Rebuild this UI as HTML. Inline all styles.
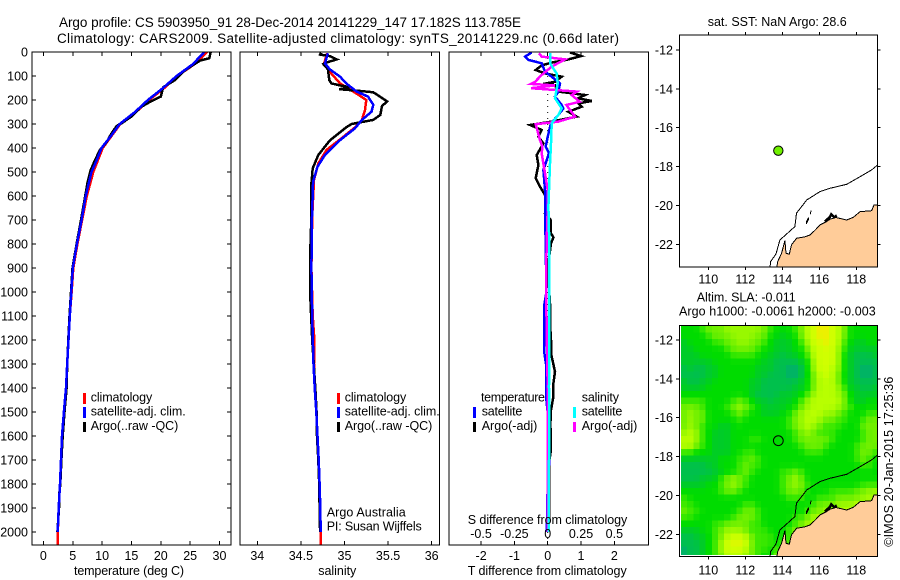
<!DOCTYPE html>
<html lang="en">
<head>
<meta charset="utf-8">
<title>Argo profile chart</title>
<style>
html,body{margin:0;padding:0;background:#fff;width:900px;height:580px;overflow:hidden}
svg{display:block}
text{font-family:"Liberation Sans",Arial,sans-serif;font-size:12.5px;fill:#000}
.t{font-size:13.5px}
</style>
</head>
<body>
<svg id="chart" width="900" height="580" viewBox="0 0 900 580" xmlns="http://www.w3.org/2000/svg">
<defs>
<clipPath id="clip-temp"><rect x="32" y="52" width="199" height="493"/></clipPath>
<clipPath id="clip-sal"><rect x="240" y="52" width="199.5" height="493"/></clipPath>
<clipPath id="clip-diff"><rect x="449" y="52" width="199.5" height="493"/></clipPath>
<clipPath id="clip-map1"><rect x="679.3" y="35" width="198" height="232"/></clipPath>
<clipPath id="clip-map2"><rect x="679.3" y="325.7" width="198" height="231"/></clipPath>
</defs>
<g id="layer-heat" clip-path="url(#clip-map2)"></g>
<g id="layer-marks"></g>
<g id="layer-axes"></g>

<text class="t" x="59" y="27" textLength="462" lengthAdjust="spacing">Argo profile: CS 5903950_91 28-Dec-2014 20141229_147 17.182S 113.785E</text>
<text class="t" x="57" y="43" textLength="562" lengthAdjust="spacing">Climatology: CARS2009. Satellite-adjusted climatology: synTS_20141229.nc (0.66d later)</text>

<text x="74" y="575" textLength="110" lengthAdjust="spacing">temperature (deg C)</text>
<text x="318.3" y="575" textLength="38" lengthAdjust="spacing">salinity</text>
<text x="467.7" y="524" textLength="159.6" lengthAdjust="spacing">S difference from climatology</text>
<text x="467.7" y="575" textLength="159" lengthAdjust="spacing">T difference from climatology</text>

<g>
<rect x="83" y="393" width="3" height="11" fill="#f00"/>
<rect x="83" y="407" width="3" height="11" fill="#00f"/>
<rect x="83" y="422" width="3" height="10" fill="#000"/>
<text x="90.7" y="401.7" textLength="61.5" lengthAdjust="spacing">climatology</text>
<text x="90.7" y="415.7" textLength="95" lengthAdjust="spacing">satellite-adj. clim.</text>
<text x="90.7" y="430" textLength="87.6" lengthAdjust="spacing">Argo(..raw -QC)</text>
</g>

<g>
<rect x="337" y="393" width="3" height="11" fill="#f00"/>
<rect x="337" y="407" width="3" height="11" fill="#00f"/>
<rect x="337" y="422" width="3" height="10" fill="#000"/>
<text x="344.7" y="401.7" textLength="61.5" lengthAdjust="spacing">climatology</text>
<text x="344.7" y="415.7" textLength="95" lengthAdjust="spacing">satellite-adj. clim.</text>
<text x="344.7" y="430" textLength="87.6" lengthAdjust="spacing">Argo(..raw -QC)</text>
<text x="326.7" y="516.7" textLength="79" lengthAdjust="spacing">Argo Australia</text>
<text x="326.7" y="530.7" textLength="95" lengthAdjust="spacing">PI: Susan Wijffels</text>
</g>

<g>
<rect x="473" y="407" width="3" height="11" fill="#00f"/>
<rect x="473" y="422" width="3" height="10" fill="#000"/>
<rect x="573" y="407" width="3" height="11" fill="#0ff"/>
<rect x="573" y="422" width="3" height="10" fill="#f0f"/>
<text x="481" y="401.7" textLength="64" lengthAdjust="spacing">temperature</text>
<text x="581.7" y="401.7" textLength="37.3" lengthAdjust="spacing">salinity</text>
<text x="481.7" y="415.7" textLength="40.6" lengthAdjust="spacing">satellite</text>
<text x="581.7" y="415.7" textLength="40.6" lengthAdjust="spacing">satellite</text>
<text x="481.7" y="430" textLength="55.6" lengthAdjust="spacing">Argo(-adj)</text>
<text x="581.7" y="430" textLength="55.6" lengthAdjust="spacing">Argo(-adj)</text>
</g>

<text x="707.7" y="26" textLength="139" lengthAdjust="spacing">sat. SST: NaN Argo: 28.6</text>
<text x="696.7" y="301.7" textLength="99" lengthAdjust="spacing">Altim. SLA: -0.011</text>
<text x="679" y="315.7" textLength="196.7" lengthAdjust="spacing">Argo h1000: -0.0061 h2000: -0.003</text>
<text transform="translate(893 546.7) rotate(-90)" x="0" y="0" textLength="170" lengthAdjust="spacing">©IMOS 20-Jan-2015 17:25:36</text>
</svg>

<script>
// ---------- profile data ----------
const tempClimDepth = [0,50,100,150,200,250,300,350,400,450,500,600,700,800,900,1000,1100,1200,1300,1400,1500,1600,1700,1800,1900,2000,2054];
const tempClim = [27.9,25.8,22.8,20.6,18.0,15.8,13.1,11.6,10.1,9.3,8.5,7.4,6.6,5.8,5.1,4.8,4.5,4.28,4.05,3.85,3.5,3.17,3.0,2.83,2.6,2.45,2.43];
const tempSatDepth = [0,50,100,150,200,250,300,350,400,450,500,600,700,800,900,1000,1100,1200,1300,1400,1500,1600,1700,1800,1900,2000];
const tempSat = [27.4,25.5,22.7,20.4,17.8,15.6,13.0,11.5,9.9,9.1,8.2,7.2,6.5,5.7,5.0,4.75,4.5,4.28,4.05,3.85,3.5,3.17,3.0,2.83,2.6,2.43];
const tempArgoDepth = [0,26,36,54,82,117,147,186,207,231,269,297,308,339,374,408,450,492,547,603,700,800,900,1000,1100,1200,1300,1400,1500,1600,1700,1800,1850,1900,2000];
const tempArgo = [28.5,28.27,26.7,25.5,23.8,22.4,20.4,20.0,18.2,16.5,15.0,13.3,12.5,11.6,10.8,9.65,8.8,8.05,7.5,7.1,6.4,5.65,4.95,4.7,4.45,4.25,4.05,3.95,3.6,3.28,3.06,2.88,2.65,2.65,2.38];

const salClimDepth = [5,50,82,131,169,200,242,283,314,364,408,464,533,686,900,1100,1200,1300,1400,1500,1600,1700,1800,1900,2000,2054];
const salClim = [34.8,34.765,34.83,34.95,35.12,35.25,35.235,35.2,35.12,34.95,34.795,34.70,34.65,34.63,34.62,34.635,34.655,34.65,34.658,34.677,34.69,34.704,34.715,34.723,34.727,34.727];
const salSatDepth = [5,47,72,103,131,165,186,220,249,283,318,367,429,478,540,686,900,1100,1300,1400,1500,1600,1700,1800,1900,2000];
const salSat = [34.81,34.776,34.83,34.95,35.02,35.14,35.27,35.33,35.31,35.2,35.12,34.95,34.776,34.69,34.64,34.627,34.62,34.63,34.645,34.658,34.677,34.69,34.704,34.715,34.723,34.727];
const salArgoDepth = [3,11,17,31,42,50,72,117,131,139,147,155,161,168,206,225,262,283,300,314,369,429,485,547,686,800,1000,1200,1400,1500,1600,1700,1800,1900,2000];
const salArgo = [34.73,34.72,34.83,34.91,34.81,34.757,34.81,34.826,34.85,34.95,35.06,34.94,35.14,35.33,35.49,35.43,35.41,35.33,35.08,35.02,34.83,34.70,34.635,34.62,34.62,34.61,34.605,34.63,34.665,34.68,34.685,34.70,34.71,34.715,34.72];

const diffTDepth = [2,17,31,44,56,75,89,103,124,133,138,165,179,193,204,214,228,249,269,290,304,325,353,381,429,471,526,561,596,658,672,700,756,772,797,900,1047,1131,1200,1256,1332,1381,1436,1492,1547,1658,1700,1894,2000];
const diffTArgo = [0.67,1.0,0.62,0.12,-0.18,-0.36,-0.08,0.42,0.22,-0.13,0.22,0.32,1.12,0.92,1.32,0.92,1.02,0.62,0.87,0.12,-0.53,-0.18,-0.28,-0.13,-0.33,-0.28,-0.36,-0.23,-0.08,-0.06,-0.08,0.09,0.1,0.17,0.1,0.0,0.07,0.07,0.1,0.1,0.22,0.17,0.17,0.1,0.08,0.1,0.05,0.05,0.03];
const diffTSatDepth = [2,19,33,47,82,103,131,165,186,221,235,262,297,353,394,422,492,575,658,800,1000,1050,1256,1300,1436,1500,1700,1800,1950,2000];
const diffTSat = [-0.48,-0.68,-0.58,-0.18,-0.08,0.12,0.37,0.32,0.22,0.42,0.47,0.32,0.1,0,-0.06,0.04,-0.13,-0.08,-0.08,-0.06,-0.04,-0.1,-0.1,-0.05,-0.05,0,0.05,0,-0.02,-0.04];
const diffSSatDepth = [5,47,89,131,193,235,262,297,381,464,644,800,1000,1400,1700,2000];
const diffSSat = [0.017,0.017,0.067,0.075,0.055,0.105,0.08,0.03,0.025,0.017,0.005,0.012,0.012,0.01,0.01,0.008];
const diffSArgoDepth = [5,19,31,61,96,124,133,139,151,165,179,207,221,269,290,301,367,394,422,505,575,658,800,1000,1400,2000];
const diffSArgo = [-0.065,-0.045,0.13,0.03,-0.045,-0.095,-0.125,0.055,-0.125,0.22,0.18,0.24,0.14,0.205,0.08,-0.09,-0.058,-0.04,-0.045,-0.02,0,0,-0.008,-0.012,0,0];

// ---------- axis labels ----------
const depthTicks = [0,100,200,300,400,500,600,700,800,900,1000,1100,1200,1300,1400,1500,1600,1700,1800,1900,2000];
const tempTicks = [0,5,10,15,20,25,30];
const salTicks = [34,34.5,35,35.5,36];
const salTickLabels = ['34','34.5','35','35.5','36'];
const diffTTicks = [-2,-1,0,1,2];
const diffSTicks = [-0.5,-0.25,0,0.25,0.5];
const diffSTickLabels = ['-0.5','-0.25','0','0.25','0.5'];
const lonTicks = [110,112,114,116,118];
const latTicks = [-12,-14,-16,-18,-20,-22];

// ---------- map data ----------
const argoLon = 113.785;
const argoLat = -17.182;
const landLon = [113.69,113.75,113.96,114.14,114.2,114.38,114.5,114.77,115.2,115.5,115.8,116.04,116.35,116.58,116.9,117.3,117.48,117.84,118.2,118.83,118.95,119.2,119.2];
const landLat = [-23.25,-22.89,-22.46,-21.81,-22.46,-22.51,-22.03,-21.69,-21.62,-21.52,-21.25,-21.0,-20.85,-20.71,-20.62,-20.71,-20.75,-20.61,-20.32,-20.27,-19.98,-19.98,-23.25];
const isobathLon = [113.33,113.37,113.66,113.87,114.68,114.77,115.32,116.04,116.58,117.48,118.2,118.83,119.2];
const isobathLat = [-23.25,-22.89,-22.5,-21.78,-21.09,-20.4,-19.72,-19.29,-19.12,-18.91,-18.52,-18.17,-17.88];
const shoalLon = [116.3,116.55,116.65,116.8,116.95];
const shoalLat = [-20.82,-20.62,-20.45,-20.6,-20.52];
const islandLon = [115.3,115.42,115.42,115.3];
const islandLat = [-20.85,-20.62,-20.72,-20.95];
const reefLon = [115.52,115.55];
const reefLat = [-20.45,-20.25];

// SLA levels, one row per 1/3 degree of latitude, north to south
const slaRows = [
[3,3,3,4,5,5,5,6,6,6,6,6,6,5,4,3,3,3,4,5,7,8,9,9,8,7,5,3,3,3,3,3],
[3,3,3,3,4,5,5,5,6,6,6,6,5,5,3,3,2,3,3,5,7,8,9,9,8,7,5,3,3,3,3,3],
[2,3,3,3,3,4,4,5,5,6,6,5,5,4,3,2,2,2,3,4,6,8,8,9,8,7,4,3,2,2,3,3],
[2,2,3,3,3,3,3,4,5,5,5,5,4,3,3,2,2,2,3,3,5,7,8,8,8,6,4,2,2,2,2,2],
[2,2,2,3,3,3,3,3,4,4,4,4,3,3,2,2,1,2,2,3,4,7,8,8,8,6,3,2,1,1,1,2],
[2,2,2,2,2,3,3,3,3,3,3,3,3,2,2,1,1,1,1,2,3,6,8,8,8,6,3,2,1,1,1,1],
[1,2,1,1,2,2,3,3,3,3,3,3,2,2,2,1,1,0,0,1,3,6,8,8,7,6,3,2,1,0,0,1],
[1,1,1,1,2,2,3,3,3,3,3,3,2,2,1,1,1,0,0,1,3,5,7,8,7,5,3,2,1,0,0,1],
[2,1,1,2,2,3,3,3,3,3,3,2,2,1,1,1,1,1,1,2,3,5,7,7,7,5,3,2,1,1,1,1],
[2,2,2,2,3,3,3,3,3,3,3,2,2,1,1,1,1,1,2,2,3,5,7,7,7,6,4,2,2,1,1,2],
[3,3,3,3,3,3,3,3,3,3,3,2,1,1,1,1,2,2,2,3,4,6,7,7,7,6,5,3,2,2,2,2],
[4,4,4,4,3,3,3,3,4,5,4,3,2,2,1,2,2,2,3,4,6,7,7,7,7,7,5,3,2,2,3,3],
[5,5,5,4,3,3,3,4,5,6,5,4,3,2,2,2,2,3,3,5,6,7,7,7,7,6,5,4,3,3,3,3],
[5,6,5,5,3,3,3,3,4,5,4,3,3,2,2,2,3,3,5,6,7,7,7,6,6,5,4,3,3,3,4,4],
[5,6,5,5,3,3,3,3,3,4,3,3,3,3,3,3,3,4,5,6,7,7,6,5,5,4,4,3,3,4,5,5],
[5,6,5,4,3,3,2,2,3,3,3,3,3,3,3,3,3,4,5,6,7,6,5,4,4,4,3,3,3,5,5,5],
[6,7,6,4,3,2,2,2,3,3,3,3,3,3,3,3,3,3,4,5,6,5,4,4,4,3,3,3,3,4,5,5],
[7,7,6,4,3,2,2,2,3,3,3,4,4,3,3,3,3,3,4,5,5,5,5,5,4,3,3,3,3,4,5,5],
[7,7,5,4,3,2,2,2,3,3,3,3,3,3,3,3,3,3,3,4,5,5,5,4,3,3,3,3,4,5,5,5],
[4,4,3,3,3,2,2,2,3,3,4,4,3,3,3,3,3,3,3,3,4,4,4,3,3,3,3,3,4,5,5,4],
[2,2,2,2,2,2,3,3,3,4,4,5,4,3,3,3,3,3,3,3,3,3,3,3,3,3,3,3,4,5,4,3],
[1,1,1,1,2,2,3,3,3,4,5,4,4,3,3,3,3,3,3,3,3,3,3,3,3,3,3,3,3,4,4,3],
[1,1,1,1,1,2,2,3,3,4,5,4,3,3,3,3,4,4,5,4,3,3,3,3,3,3,3,3,3,3,3,3],
[1,1,1,2,2,2,4,5,6,5,4,3,3,3,3,3,4,5,6,5,3,3,3,3,3,3,3,3,3,3,3,3],
[2,2,2,2,3,3,4,5,6,5,4,3,3,3,3,3,4,5,6,5,4,3,3,3,3,3,3,3,3,4,4,4],
[3,3,3,3,3,3,4,5,5,4,3,3,3,3,3,3,4,5,5,5,3,3,3,3,4,4,4,4,5,5,6,6],
[4,3,3,3,3,3,3,3,3,3,3,3,3,3,3,3,3,4,4,4,3,3,4,4,4,5,5,5,5,6,6,7],
[4,4,3,3,3,3,3,3,3,3,4,4,3,3,3,3,3,3,3,3,3,4,5,5,5,6,6,6,7,7,7,7],
[5,4,4,3,3,3,3,3,3,4,5,5,4,3,3,3,3,3,3,3,4,5,5,6,6,7,7,7,7,8,8,8],
[4,4,3,3,3,3,3,3,4,5,5,5,4,3,3,3,3,3,4,4,5,6,7,7,7,8,8,8,8,8,8,8],
[3,3,3,3,3,4,4,5,5,5,5,4,4,3,3,3,3,3,4,5,6,7,7,8,8,8,8,8,8,8,8,8],
[2,2,2,3,3,4,5,6,6,6,5,4,4,4,3,3,3,4,5,6,7,7,7,8,8,8,8,8,8,8,8,8],
[1,1,2,2,3,4,5,7,8,8,7,5,4,4,4,3,3,4,5,6,7,7,7,8,8,8,8,8,8,8,8,8],
[1,1,1,2,3,4,6,8,8.5,8.5,8,5,4,4,4,3,4,4,5,6,7,7,7,8,8,8,8,8,8,8,8,8],
[0,1,1,2,3,4,6,8,8,8,7,5,4,4,3,4,5,6,7,7,7,7,7,7,7,7,7,7,7,7,7,7],
[0,1,1,2,3,4,5,7,7,7,6,5,4,3,3,5,6,7,7,7,7,7,7,7,7,7,7,7,7,7,7,7]
];

// ---------- scales ----------
const NS = 'http://www.w3.org/2000/svg';
const yDepth = d => 52 + 0.24 * d;
const xTemp = v => 43.4 + 5.87 * v;
const xSal = v => 257.3 + 87.2 * (v - 34);
const xDiffT = v => 547.7 + 33.3 * v;
const xDiffS = v => 547.7 + 133.3 * v;
const xLon = v => 708.3 + 18.5 * (v - 110);
const yLat1 = v => 50 + 19.43 * (-12 - v);
const yLat2 = v => 340 + 19.43 * (-12 - v);
const palette = ['#00b06c','#00c04c','#00cc28','#00dc00','#38e800','#70f000','#98f800','#b8ff00','#d0ff00','#f0ee00'];

const heat = document.getElementById('layer-heat');
const marks = document.getElementById('layer-marks');
const axes = document.getElementById('layer-axes');

function hexRgb(h){return [1,3,5].map(i=>parseInt(h.substr(i,2),16));}
function levelColor(v){
  const lo = Math.max(0, Math.min(9, Math.floor(v)));
  const hi = Math.min(9, lo + 1);
  const f = Math.max(0, Math.min(1, v - lo));
  const a = hexRgb(palette[lo]), b = hexRgb(palette[hi]);
  return 'rgb(' + a.map((c,i)=>Math.round(c + (b[i]-c)*f)).join(',') + ')';
}
function softened(r, c){
  const v = slaRows[r][c];
  const up = r > 0 ? slaRows[r-1][c] : v;
  const down = r < slaRows.length - 1 ? slaRows[r+1][c] : v;
  const left = c > 0 ? slaRows[r][c-1] : v;
  const right = c < slaRows[r].length - 1 ? slaRows[r][c+1] : v;
  return (4 * v + up + down + left + right) / 8;
}
function drawProfile(name, depths, values, xFn, color, width, clip){
  const el = document.createElementNS(NS, 'polyline');
  
  
  el.setAttribute('points', depths.map((d,i)=>xFn(values[i]).toFixed(1)+','+yDepth(d).toFixed(1)).join(' '));
  el.setAttribute('fill', 'none');
  el.setAttribute('stroke', color);
  el.setAttribute('stroke-width', width);
  el.setAttribute('shape-rendering', 'crispEdges');
  el.setAttribute('clip-path', 'url(#' + clip + ')');
  marks.appendChild(el);
}
function drawGeo(name, lons, lats, yFn, fill, stroke, width, clip){
  const el = document.createElementNS(NS, fill === 'none' ? 'polyline' : 'polygon');
  
  
  el.setAttribute('points', lons.map((v,i)=>xLon(v).toFixed(1)+','+yFn(lats[i]).toFixed(1)).join(' '));
  el.setAttribute('fill', fill);
  el.setAttribute('stroke', stroke);
  el.setAttribute('stroke-width', width);
  el.setAttribute('shape-rendering', 'crispEdges');
  el.setAttribute('clip-path', 'url(#' + clip + ')');
  marks.appendChild(el);
}
function tick(name, x1, y1, x2, y2){
  const el = document.createElementNS(NS, 'line');
  
  
  el.setAttribute('x1', x1);
  el.setAttribute('y1', y1);
  el.setAttribute('x2', x2);
  el.setAttribute('y2', y2);
  el.setAttribute('stroke', '#000');
  el.setAttribute('stroke-width', 1);
  el.setAttribute('shape-rendering', 'crispEdges');
  axes.appendChild(el);
}
function label(name, str, x, y, anchor){
  const el = document.createElementNS(NS, 'text');
  
  
  el.setAttribute('x', x);
  el.setAttribute('y', y);
  el.setAttribute('text-anchor', anchor);
  el.textContent = str;
  axes.appendChild(el);
}
function box(name, x, y, w, h){
  const el = document.createElementNS(NS, 'rect');
  
  
  el.setAttribute('x', x);
  el.setAttribute('y', y);
  el.setAttribute('width', w);
  el.setAttribute('height', h);
  el.setAttribute('fill', 'none');
  el.setAttribute('stroke', '#000');
  el.setAttribute('stroke-width', 1);
  el.setAttribute('shape-rendering', 'crispEdges');
  axes.appendChild(el);
}

// ---------- heatmap ----------
slaRows.forEach((row, r) => {
  row.forEach((v, c) => {
    const cell = document.createElementNS(NS, 'rect');
    
    
    cell.setAttribute('x', (681 + c * 6.17).toFixed(2));
    cell.setAttribute('y', (326 + r * 6.48).toFixed(2));
    cell.setAttribute('width', 6.6);
    cell.setAttribute('height', Math.min(6.9, 555 - (326 + r * 6.48)).toFixed(2));
    cell.setAttribute('fill', levelColor(softened(r, c)));
    cell.setAttribute('shape-rendering', 'crispEdges');
    heat.appendChild(cell);
  });
});

// ---------- profiles ----------
drawProfile('temperature-climatology-line', tempClimDepth, tempClim, xTemp, '#f00', 2.5, 'clip-temp');
drawProfile('temperature-argo-line', tempArgoDepth, tempArgo, xTemp, '#000', 2.5, 'clip-temp');
drawProfile('temperature-satellite-line', tempSatDepth, tempSat, xTemp, '#00f', 2.5, 'clip-temp');
drawProfile('salinity-climatology-line', salClimDepth, salClim, xSal, '#f00', 2.5, 'clip-sal');
drawProfile('salinity-argo-line', salArgoDepth, salArgo, xSal, '#000', 2.5, 'clip-sal');
drawProfile('salinity-satellite-line', salSatDepth, salSat, xSal, '#00f', 2.5, 'clip-sal');

const zeroLine = document.createElementNS(NS, 'line');


zeroLine.setAttribute('x1', xDiffT(0));
zeroLine.setAttribute('x2', xDiffT(0));
zeroLine.setAttribute('y1', 52);
zeroLine.setAttribute('y2', 545);
zeroLine.setAttribute('stroke', '#000');
zeroLine.setAttribute('stroke-dasharray', '1 5');
marks.appendChild(zeroLine);

drawProfile('diff-temperature-argo-line', diffTDepth, diffTArgo, xDiffT, '#000', 2.5, 'clip-diff');
drawProfile('diff-temperature-satellite-line', diffTSatDepth, diffTSat, xDiffT, '#00f', 2.5, 'clip-diff');
drawProfile('diff-salinity-argo-line', diffSArgoDepth, diffSArgo, xDiffS, '#f0f', 2.5, 'clip-diff');
drawProfile('diff-salinity-satellite-line', diffSSatDepth, diffSSat, xDiffS, '#0ff', 2.5, 'clip-diff');

// ---------- maps ----------
[[yLat1,'clip-map1','sst'],[yLat2,'clip-map2','sla']].forEach(m => {
  const yFn = m[0], clip = m[1], key = m[2];
  drawGeo(key + '-map-land', landLon, landLat, yFn, '#ffcc99', '#000', 1, clip);
  drawGeo(key + '-map-shoal', shoalLon, shoalLat, yFn, 'none', '#000', 2.5, clip);
  drawGeo(key + '-map-island', islandLon, islandLat, yFn, '#ffcc99', '#000', 1, clip);
  drawGeo(key + '-map-reef', reefLon, reefLat, yFn, 'none', '#000', 1, clip);
  drawGeo(key + '-map-isobath', isobathLon, isobathLat, yFn, 'none', '#000', 1, clip);
});

const argoDot = document.createElementNS(NS, 'circle');


argoDot.setAttribute('cx', xLon(argoLon));
argoDot.setAttribute('cy', yLat1(argoLat));
argoDot.setAttribute('r', 4.7);
argoDot.setAttribute('fill', '#70f000');
argoDot.setAttribute('stroke', '#000');
argoDot.setAttribute('stroke-width', 1);
marks.appendChild(argoDot);

const argoRing = document.createElementNS(NS, 'circle');


argoRing.setAttribute('cx', xLon(argoLon));
argoRing.setAttribute('cy', yLat2(argoLat));
argoRing.setAttribute('r', 4.9);
argoRing.setAttribute('fill', 'none');
argoRing.setAttribute('stroke', '#000');
argoRing.setAttribute('stroke-width', 1);
marks.appendChild(argoRing);

// ---------- axes ----------
box('temperature-panel-frame', 32, 52, 199, 493);
box('salinity-panel-frame', 240, 52, 199.5, 493);
box('difference-panel-frame', 449, 52, 199.5, 493);
box('sst-map-frame', 679.3, 35, 198, 232);
box('sla-map-frame', 679.3, 325.7, 198, 231);

depthTicks.forEach(d => {
  tick('depth-tick-left', 32, yDepth(d), 36, yDepth(d));
  tick('depth-tick-right', 227, yDepth(d), 231, yDepth(d));
  label('depth-tick-label', String(d), 28, yDepth(d) + 4.5, 'end');
});
tempTicks.forEach(v => {
  tick('temperature-tick-top', xTemp(v), 52, xTemp(v), 56);
  tick('temperature-tick-bottom', xTemp(v), 541, xTemp(v), 545);
  label('temperature-tick-label', String(v), xTemp(v), 560, 'middle');
});
salTicks.forEach((v, i) => {
  tick('salinity-tick-top', xSal(v), 52, xSal(v), 56);
  tick('salinity-tick-bottom', xSal(v), 541, xSal(v), 545);
  label('salinity-tick-label', salTickLabels[i], xSal(v), 560, 'middle');
});
diffTTicks.forEach(v => {
  tick('t-difference-tick-top', xDiffT(v), 52, xDiffT(v), 56);
  tick('t-difference-tick-bottom', xDiffT(v), 541, xDiffT(v), 545);
  label('t-difference-tick-label', String(v), xDiffT(v), 560, 'middle');
});
diffSTicks.forEach((v, i) => {
  label('s-difference-tick-label', diffSTickLabels[i], xDiffS(v), 538, 'middle');
});
lonTicks.forEach(v => {
  tick('sst-lon-tick', xLon(v), 32, xLon(v), 35);
  tick('sst-lon-tick-bottom', xLon(v), 267, xLon(v), 270);
  label('sst-lon-label', String(v), xLon(v), 283.3, 'middle');
  tick('sla-lon-tick', xLon(v), 322.7, xLon(v), 325.7);
  tick('sla-lon-tick-bottom', xLon(v), 556.7, xLon(v), 559.7);
  label('sla-lon-label', String(v), xLon(v), 574.3, 'middle');
});
latTicks.forEach(v => {
  tick('sst-lat-tick', 676, yLat1(v), 679.3, yLat1(v));
  tick('sst-lat-tick-right', 877.3, yLat1(v), 880.5, yLat1(v));
  label('sst-lat-label', String(v), 673, yLat1(v) + 4.5, 'end');
  tick('sla-lat-tick', 676, yLat2(v), 679.3, yLat2(v));
  tick('sla-lat-tick-right', 877.3, yLat2(v), 880.5, yLat2(v));
  label('sla-lat-label', String(v), 673, yLat2(v) + 4.5, 'end');
});
</script>
</body>
</html>
